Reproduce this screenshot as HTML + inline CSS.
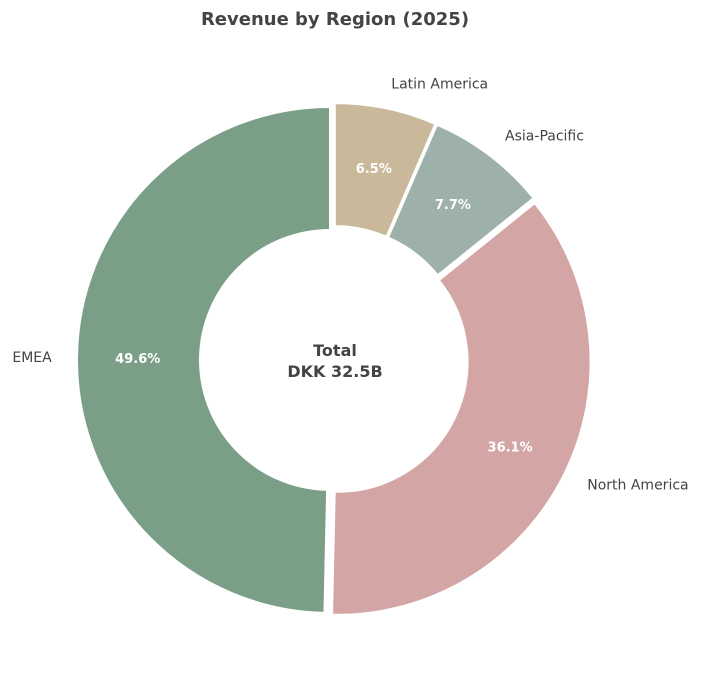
<!DOCTYPE html>
<html><head><meta charset="utf-8"><style>
body{margin:0;background:#fff;}
svg{display:block;font-family:"DejaVu Sans","Liberation Sans",sans-serif;}
</style></head><body>
<svg id="chart" width="710" height="687">
<text x="335" y="25" text-anchor="middle" font-size="18" font-weight="bold" fill="#444">Revenue by Region (2025)</text>
<g id="slices"></g>
<text x="335" y="356" text-anchor="middle" font-size="16" font-weight="bold" fill="#444">Total</text>
<text x="335" y="377" text-anchor="middle" font-size="16" font-weight="bold" fill="#444">DKK 32.5B</text>
</svg>
<script>
const categories = ["EMEA","North America","Asia-Pacific","Latin America"];
const values = [49.6,36.1,7.7,6.5];
const colors = ["#7b9e87","#d4a5a5","#9eb0aa","#c9b99a"];
const cx=334, cy=360, R=253, r0=130, explode=4;
const total=values.reduce((a,b)=>a+b,0);
const g=document.getElementById('slices');
const NS="http://www.w3.org/2000/svg";
let a=90;
function pt(ang,rad,ox,oy){const t=ang*Math.PI/180;return [cx+ox+rad*Math.cos(t), cy+oy-rad*Math.sin(t)];}
values.forEach((v,i)=>{
  const sweep=v/total*360, a1=a, a2=a+sweep, mid=(a1+a2)/2, mt=mid*Math.PI/180;
  const ox=explode*Math.cos(mt), oy=-explode*Math.sin(mt);
  const p1=pt(a1,R,ox,oy), p2=pt(a2,R,ox,oy), p3=pt(a2,r0,ox,oy), p4=pt(a1,r0,ox,oy);
  const large=sweep>180?1:0;
  const path=document.createElementNS(NS,'path');
  path.setAttribute('d',`M${p1[0]},${p1[1]} A${R},${R} 0 ${large} 0 ${p2[0]},${p2[1]} L${p3[0]},${p3[1]} A${r0},${r0} 0 ${large} 1 ${p4[0]},${p4[1]} Z`);
  path.setAttribute('fill',colors[i]);
  path.setAttribute('stroke','#fff');
  path.setAttribute('stroke-width','2');
  
  
  g.appendChild(path);
  const pp=pt(mid,R*0.76,ox,oy);
  const pct=document.createElementNS(NS,'text');
  pct.setAttribute('x',pp[0]);pct.setAttribute('y',pp[1]+5);
  pct.setAttribute('text-anchor','middle');pct.setAttribute('font-size','13');
  pct.setAttribute('font-weight','bold');pct.setAttribute('fill','#fff');
  pct.textContent=v.toFixed(1)+'%';
  
  
  g.appendChild(pct);
  const lp=pt(mid,R*1.1,ox,oy);
  const lab=document.createElementNS(NS,'text');
  lab.setAttribute('x',lp[0]);lab.setAttribute('y',lp[1]+5);
  lab.setAttribute('text-anchor',Math.cos(mt)>=0?'start':'end');
  lab.setAttribute('font-size','14');lab.setAttribute('fill','#444');
  lab.textContent=categories[i];
  
  
  g.appendChild(lab);
  a=a2;
});
</script>
</body></html>
